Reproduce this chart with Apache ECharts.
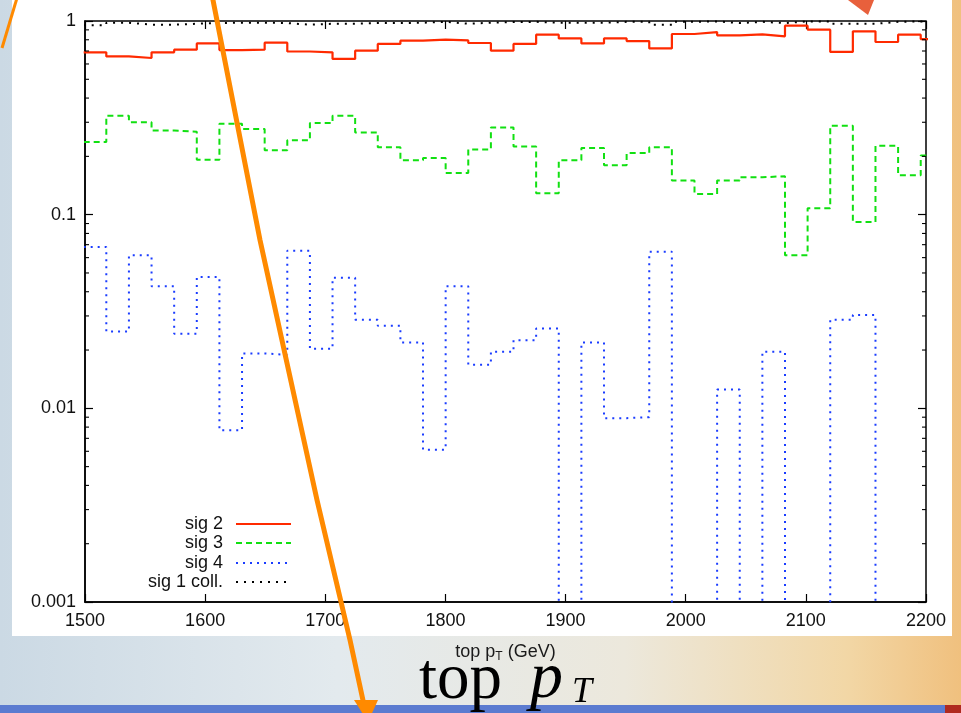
<!DOCTYPE html>
<html>
<head>
<meta charset="utf-8">
<script src="https://cdn.jsdelivr.net/npm/echarts@6/dist/echarts.min.js"></script>
<style>
  html, body { margin: 0; padding: 0; }
  #stage {
    position: relative; width: 961px; height: 713px; overflow: hidden;
    background: linear-gradient(90deg, #cbd9e4 0%, #e3eaee 35%, #ece8dc 65%, #f2d7a6 88%, #f0c07e 100%);
  }
  #panel { position: absolute; left: 12px; top: 0; width: 940px; height: 636px; background: #fff; }
  #bar { position: absolute; left: 0; top: 705px; width: 961px; height: 8px; background: #5b7bd0; }
  #main { position: absolute; left: 0; top: 0; width: 961px; height: 713px; }
</style>
</head>
<body>
<div id="stage">
  <div id="panel"></div>
  <div id="bar"></div>
  <div id="main"></div>
</div>
<script>
// histogram binning (GeV): first bin starts just below 1500
const binStart = 1498.9;
const binWidth = 18.83;

// bin contents, one value per bin (0 = empty bin)
const sig2 = [0.689, 0.656, 0.644, 0.689, 0.711, 0.766, 0.708, 0.711, 0.773, 0.696,
  0.689, 0.637, 0.703, 0.761, 0.791, 0.801, 0.794, 0.770, 0.703, 0.761,
  0.850, 0.813, 0.766, 0.813, 0.788, 0.722, 0.857, 0.877, 0.843, 0.853,
  0.833, 0.946, 0.902, 0.692, 0.884, 0.779, 0.850, 0.807];
const sig3 = [0.237, 0.324, 0.300, 0.272, 0.268, 0.192, 0.295, 0.277, 0.215, 0.242,
  0.297, 0.324, 0.266, 0.223, 0.191, 0.196, 0.164, 0.217, 0.282, 0.225,
  0.129, 0.191, 0.221, 0.180, 0.208, 0.223, 0.150, 0.128, 0.150, 0.156,
  0.158, 0.0617, 0.108, 0.288, 0.0917, 0.227, 0.160, 0.202];
const sig4 = [0.0681, 0.0249, 0.0617, 0.0427, 0.0243, 0.0477, 0.0077, 0.0192, 0.0189, 0.0652,
  0.0203, 0.0473, 0.0287, 0.0267, 0.0219, 0.00612, 0.0427, 0.0168, 0.0196, 0.0225,
  0.0258, 0, 0.0219, 0.0089, 0.0090, 0.0644, 0, 0, 0.0125, 0,
  0.0196, 0, 0, 0.0287, 0.0303, 0, 0, 0];
const sig1coll = [0.950, 0.980, 0.957, 0.957, 0.968, 0.976, 0.980, 0.980, 0.976, 0.957,
  0.968, 0.968, 0.976, 0.976, 0.980, 0.990, 0.968, 0.980, 0.988, 0.990,
  0.980, 0.980, 0.980, 0.990, 0.990, 0.957, 0.990, 0.995, 0.976, 0.990,
  0.976, 0.995, 0.995, 0.968, 0.968, 0.990, 0.995, 0.995];

const xTicks = [1500, 1600, 1700, 1800, 1900, 2000, 2100, 2200];
const yTicks = [0.001, 0.01, 0.1, 1];

const FLOOR = 1e-6; // empty bins drop below the log axis

// histogram -> step points (left edges + closing right edge)
function steps(vals) {
  const pts = vals.map((v, i) => [binStart + i * binWidth, v > 0 ? v : FLOOR]);
  const last = vals[vals.length - 1];
  pts.push([binStart + vals.length * binWidth, last > 0 ? last : FLOOR]);
  return pts;
}

// minor log ticks 2..9 per decade
const minorTicks = [];
[0.001, 0.01, 0.1].forEach(d => { for (let k = 2; k <= 9; k++) minorTicks.push([1500, k * d]); });

const chart = echarts.init(document.getElementById('main'), null, { renderer: 'canvas' });
const font = 'Liberation Sans, Arial, sans-serif';

function legendFor(name, top) {
  return {
    data: [name], top: top, right: 669, orient: 'vertical', align: 'right',
    padding: 0, itemWidth: 55, itemHeight: 12, selectedMode: false,
    itemStyle: { opacity: 0 },
    textStyle: { fontFamily: font, fontSize: 18, color: '#111', padding: [0, 8, 0, 0] }
  };
}

chart.setOption({
  animation: false,
  backgroundColor: 'transparent',
  grid: { left: 85, right: 35, top: 21, bottom: 111, show: true, borderColor: '#000', borderWidth: 1.5 },
  legend: [
    legendFor('sig 2', 515),
    legendFor('sig 3', 534),
    legendFor('sig 4', 554),
    legendFor('sig 1 coll.', 573)
  ],
  xAxis: [{
    type: 'value', min: 1500, max: 2200, interval: 100, position: 'bottom',
    axisLine: { lineStyle: { color: '#000', width: 1.5 } },
    axisTick: { inside: true, length: 8, lineStyle: { color: '#000', width: 1.2 } },
    axisLabel: { fontFamily: font, fontSize: 18, color: '#111', margin: 10,
      formatter: v => xTicks.includes(v) ? String(v) : '' },
    splitLine: { show: false },
    name: 'top p{s|T} (GeV)', nameLocation: 'middle', nameGap: 40,
    nameTextStyle: { fontFamily: font, fontSize: 18, color: '#1a1a1a',
      rich: { s: { fontFamily: font, fontSize: 12, color: '#1a1a1a', padding: [9, 0, 0, 0] } } }
  }, {
    type: 'value', min: 1500, max: 2200, interval: 100, position: 'top',
    axisLine: { show: false },
    axisTick: { inside: true, length: 8, lineStyle: { color: '#000', width: 1.2 } },
    axisLabel: { show: false }, splitLine: { show: false }
  }],
  yAxis: [{
    type: 'log', logBase: 10, min: 0.001, max: 1, position: 'left',
    axisLine: { show: true, lineStyle: { color: '#000', width: 1.5 } },
    axisTick: { show: true, inside: true, length: 8, lineStyle: { color: '#000', width: 1.2 } },
    axisLabel: { fontFamily: font, fontSize: 18, color: '#111', margin: 9,
      formatter: v => String(Number(v.toPrecision(3))) },
    splitLine: { show: false }
  }, {
    type: 'log', logBase: 10, min: 0.001, max: 1, position: 'right',
    axisLine: { show: false },
    axisTick: { show: true, inside: true, length: 8, lineStyle: { color: '#000', width: 1.2 } },
    axisLabel: { show: false }, splitLine: { show: false }
  }],
  series: [{
    name: 'sig 2', type: 'line', step: 'end', symbol: 'none', data: steps(sig2),
    lineStyle: { color: '#ff2a00', width: 2.2 }, itemStyle: { color: '#ff2a00' }, z: 4
  }, {
    name: 'sig 3', type: 'line', step: 'end', symbol: 'none', data: steps(sig3),
    lineStyle: { color: '#11e011', width: 2, type: [6, 4] }, itemStyle: { color: '#11e011' }, z: 3
  }, {
    name: 'sig 4', type: 'line', step: 'end', symbol: 'none', data: steps(sig4),
    lineStyle: { color: '#1a3cff', width: 2, type: [2, 5] }, itemStyle: { color: '#1a3cff' }, z: 2
  }, {
    name: 'sig 1 coll.', type: 'line', step: 'end', symbol: 'none', data: steps(sig1coll),
    lineStyle: { color: '#000', width: 2, type: [2, 6] }, itemStyle: { color: '#000' }, z: 1
  }, {
    type: 'custom', data: minorTicks, silent: true, clip: false, z: 5,
    renderItem: (params, api) => {
      const l = api.coord([1500, api.value(1)]);
      const r = api.coord([2200, api.value(1)]);
      const st = { stroke: '#000', lineWidth: 1.1 };
      return { type: 'group', children: [
        { type: 'line', shape: { x1: l[0], y1: l[1], x2: l[0] + 4, y2: l[1] }, style: st },
        { type: 'line', shape: { x1: r[0] - 4, y1: r[1], x2: r[0], y2: r[1] }, style: st }
      ] };
    }
  }],
  graphic: [
    // slide overlay: big title and arrows
    { type: 'text', x: 419, y: 713, style: { text: 'top', fontFamily: 'Liberation Serif, serif', fontSize: 65, fill: '#000', textVerticalAlign: 'bottom' }, z: 20 },
    { type: 'text', x: 530, y: 713, style: { text: 'p', fontFamily: 'Liberation Serif, serif', fontStyle: 'italic', fontSize: 66, fill: '#000', textVerticalAlign: 'bottom' }, z: 20 },
    { type: 'text', x: 572, y: 711, style: { text: 'T', fontFamily: 'Liberation Serif, serif', fontStyle: 'italic', fontSize: 36, fill: '#000', textVerticalAlign: 'bottom' }, z: 20 },
    { type: 'polyline', shape: { points: [[212, -5], [260, 240], [317, 500], [350, 640], [364, 705]] },
      style: { stroke: '#ff8a00', lineWidth: 5, fill: null }, z: 30 },
    { type: 'polygon', shape: { points: [[354, 700], [378, 700], [368, 722]] }, style: { fill: '#ff8a00' }, z: 30 },
    { type: 'polyline', shape: { points: [[2, 48], [17, -2]] }, style: { stroke: '#ff8a00', lineWidth: 3, fill: null }, z: 30 },
    { type: 'polygon', shape: { points: [[848, 0], [874, 0], [868, 15]] }, style: { fill: '#e8603c' }, z: 30 },
    { type: 'rect', shape: { x: 945, y: 705, width: 16, height: 8 }, style: { fill: '#b02a20' }, z: 30 }
  ]
});
</script>
</body>
</html>
